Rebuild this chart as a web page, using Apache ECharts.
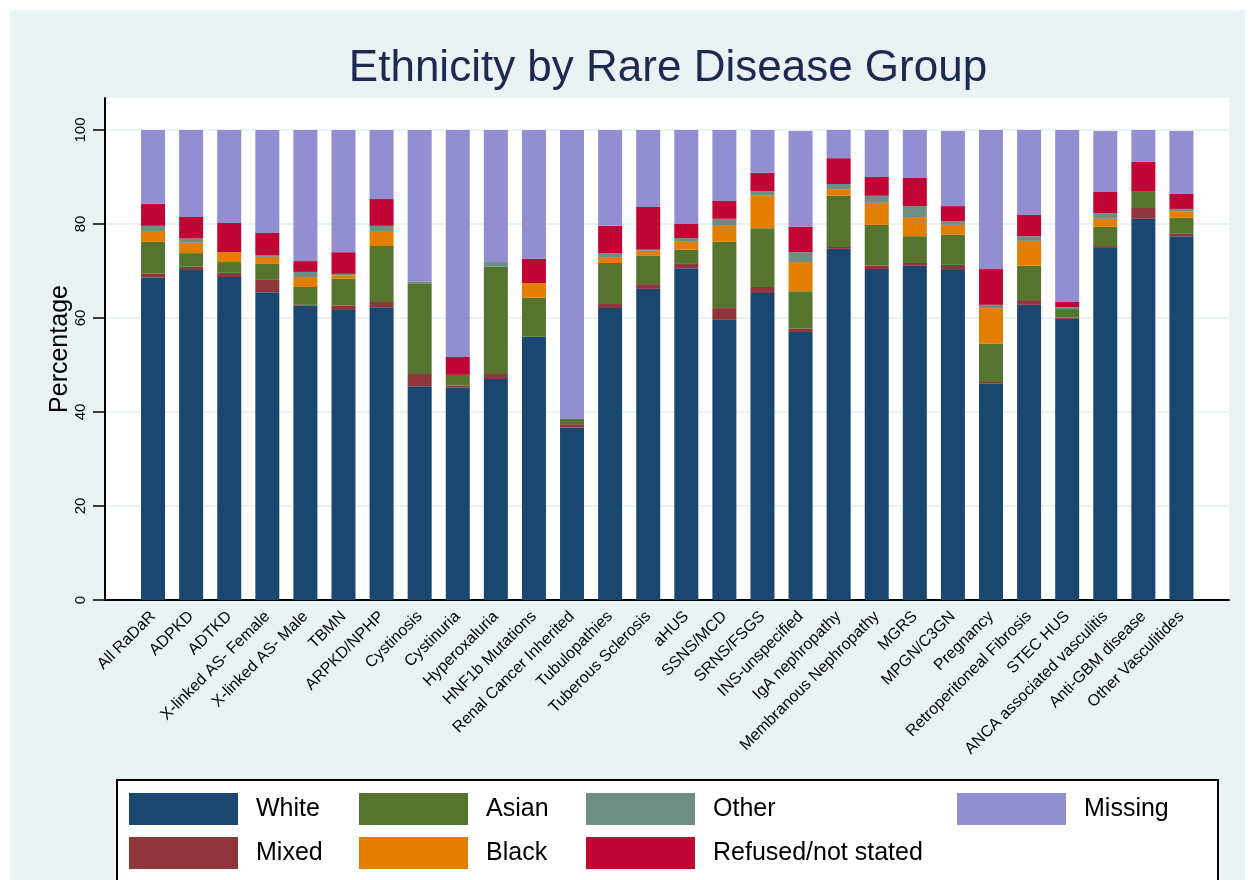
<!DOCTYPE html>
<html>
<head>
<meta charset="utf-8">
<script src="https://cdn.jsdelivr.net/npm/echarts@6/dist/echarts.min.js"></script>
<style>
  html, body { margin: 0; padding: 0; background: #fff; }
  #chart { position: absolute; left: 10px; top: 10px; width: 1235px; height: 870px; }
</style>
</head>
<body>
<div id="chart"></div>
<script>
// groups along the x axis
const groups = [
  'All RaDaR', 'ADPKD', 'ADTKD', 'X-linked AS- Female', 'X-linked AS- Male', 'TBMN',
  'ARPKD/NPHP', 'Cystinosis', 'Cystinuria', 'Hyperoxaluria', 'HNF1b Mutations',
  'Renal Cancer Inherited', 'Tubulopathies', 'Tuberous Sclerosis', 'aHUS', 'SSNS/MCD',
  'SRNS/FSGS', 'INS-unspecified', 'IgA nephropathy', 'Membranous Nephropathy', 'MGRS',
  'MPGN/C3GN', 'Pregnancy', 'Retroperitoneal Fibrosis', 'STEC HUS',
  'ANCA associated vasculitis', 'Anti-GBM disease', 'Other Vasculitides'
]

// percentages per ethnicity, same order as groups
const white   = [68.6, 70.2, 68.7, 65.5, 62.6, 61.7, 62.3, 45.5, 45.2, 47.0, 56.0, 36.7, 62.1, 66.2, 70.6, 59.6, 65.3, 57.0, 74.7, 70.4, 71.1, 70.2, 46.0, 62.8, 59.8, 74.9, 81.1, 77.4]
const mixed   = [0.8, 0.7, 0.9, 2.6, 0.2, 0.9, 1.1, 2.6, 0.4, 1.1, 0.0, 0.7, 0.9, 1.0, 0.9, 2.5, 1.3, 0.7, 0.4, 0.7, 0.6, 1.1, 0.4, 1.0, 0.3, 0.4, 2.3, 0.5]
const asian   = [6.8, 2.9, 2.3, 3.4, 3.8, 5.8, 11.9, 19.3, 2.3, 22.8, 8.3, 1.1, 8.7, 6.0, 3.0, 14.1, 12.5, 8.0, 10.9, 8.7, 5.7, 6.4, 8.1, 7.3, 1.8, 4.1, 3.6, 3.4]
const black   = [2.3, 2.2, 2.1, 1.5, 2.1, 0.7, 3.2, 0.0, 0.0, 0.0, 3.1, 0.0, 1.1, 1.1, 1.7, 3.4, 6.9, 6.2, 1.4, 4.7, 3.9, 2.1, 7.6, 5.3, 0.0, 1.7, 0.0, 1.3]
const other   = [1.1, 0.9, 0.0, 0.4, 1.1, 0.3, 1.1, 0.3, 0.0, 1.0, 0.0, 0.0, 1.0, 0.2, 0.8, 1.5, 1.0, 2.1, 1.1, 1.5, 2.5, 0.8, 0.7, 1.0, 0.4, 1.2, 0.0, 0.6]
const refused = [4.7, 4.6, 6.2, 4.7, 2.3, 4.6, 5.7, 0.0, 3.8, 0.0, 5.2, 0.0, 5.8, 9.1, 3.0, 3.8, 3.9, 5.4, 5.5, 4.0, 6.0, 3.2, 7.6, 4.5, 1.1, 4.5, 6.2, 3.2]
const missing = [15.7, 18.5, 19.8, 21.9, 27.9, 26.0, 14.7, 32.3, 48.3, 28.1, 27.4, 61.5, 20.4, 16.4, 20.0, 15.1, 9.1, 20.4, 6.0, 10.0, 10.2, 16.0, 29.6, 18.1, 36.6, 13.0, 6.8, 13.4]

const yTicks = [0, 20, 40, 60, 80, 100]
const yTop = 106.8

const font = "'Liberation Sans', Arial, sans-serif"

const stackSeries = [
  { name: 'White', data: white, color: '#1a476f' },
  { name: 'Mixed', data: mixed, color: '#90353b' },
  { name: 'Asian', data: asian, color: '#55752f' },
  { name: 'Black', data: black, color: '#e37e00' },
  { name: 'Other', data: other, color: '#6e8e84' },
  { name: 'Refused/not stated', data: refused, color: '#c10534' },
  { name: 'Missing', data: missing, color: '#938dd2' }
]

function legendCol(left, names) {
  return {
    orient: 'vertical',
    left: left,
    top: 783,
    padding: 0,
    itemWidth: 109,
    itemHeight: 32,
    itemGap: 12,
    icon: 'rect',
    selectedMode: false,
    data: names,
    textStyle: { fontFamily: font, fontSize: 25, color: '#000', padding: [3, 0, 0, 13] }
  }
}

const chart = echarts.init(document.getElementById('chart'))

const option = {
  backgroundColor: '#eaf2f3',
  animation: false,
  textStyle: { fontFamily: font },
  graphic: [
    {
      type: 'text',
      x: 658,
      y: 59,
      style: {
        text: 'Ethnicity by Rare Disease Group',
        textAlign: 'center',
        textVerticalAlign: 'middle',
        fontFamily: font,
        fontSize: 44,
        fill: '#1c2a52'
      }
    },
    {
      type: 'rect',
      shape: { x: 107, y: 770, width: 1101, height: 130 },
      style: { fill: '#fff', stroke: '#000', lineWidth: 2 }
    }
  ],
  legend: [
    legendCol(119, ['White', 'Mixed']),
    legendCol(349, ['Asian', 'Black']),
    legendCol(576, ['Other', 'Refused/not stated']),
    legendCol(947, ['Missing'])
  ],
  grid: [
    { left: 95, top: 88, width: 1124, height: 502, show: true, backgroundColor: '#fff', borderWidth: 0 },
    { left: 124, top: 88, width: 1066.5, height: 502 }
  ],
  xAxis: [
    {
      gridIndex: 0, type: 'value', min: 0, max: 1,
      axisLine: { show: true, onZero: false, lineStyle: { color: '#000', width: 2 } },
      axisTick: { show: false }, axisLabel: { show: false }, splitLine: { show: false }
    },
    {
      gridIndex: 1, type: 'category', data: groups,
      axisLine: { show: false }, axisTick: { show: false },
      axisLabel: { interval: 0, rotate: 45, fontSize: 16, color: '#000', margin: 14 }
    }
  ],
  yAxis: [
    {
      gridIndex: 0, type: 'value', min: 0, max: yTop, interval: 20,
      name: 'Percentage', nameLocation: 'middle', nameGap: 32, nameMoveOverlap: false,
      nameTextStyle: { fontSize: 25, color: '#000' },
      axisLine: { show: true, lineStyle: { color: '#000', width: 2 } },
      axisTick: { show: true, length: 12, customValues: yTicks, lineStyle: { color: '#000', width: 1.5 } },
      axisLabel: {
        rotate: 90, fontSize: 15, color: '#000', margin: 17, customValues: yTicks,
        formatter: v => (v % 20 === 0 ? String(v) : '')
      },
      splitLine: { show: true, lineStyle: { color: '#eaf2f3', width: 2 } }
    },
    {
      gridIndex: 1, type: 'value', min: 0, max: yTop,
      axisLine: { show: false }, axisTick: { show: false }, axisLabel: { show: false }, splitLine: { show: false }
    }
  ],
  series: stackSeries.map(s => ({
    name: s.name,
    type: 'bar',
    stack: 'total',
    xAxisIndex: 1,
    yAxisIndex: 1,
    barWidth: 24,
    data: s.data,
    itemStyle: { color: s.color },
    silent: true
  }))
}

chart.setOption(option)
</script>
</body>
</html>
